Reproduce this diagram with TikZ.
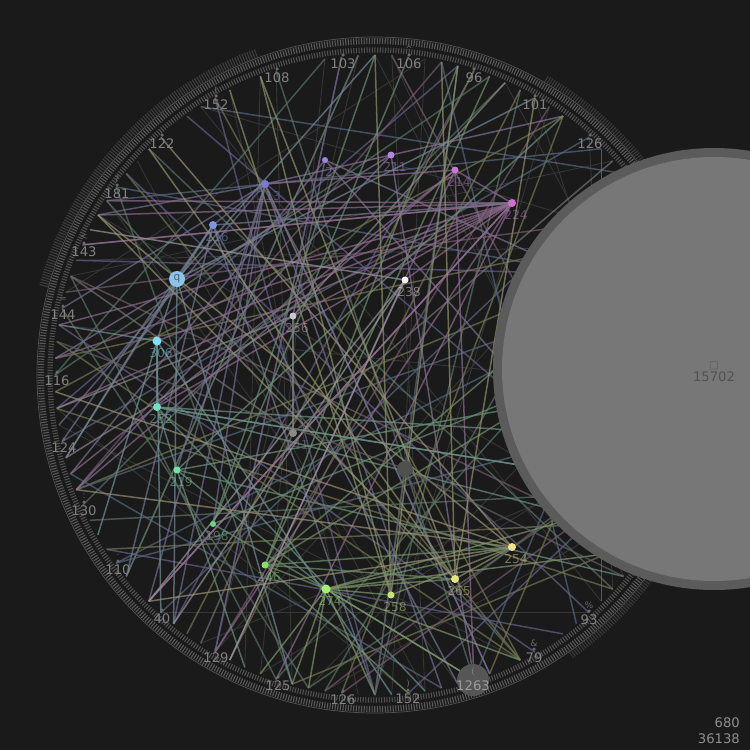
\documentclass[tikz,border=0pt]{standalone}
\usepackage{fontspec}
\setmainfont{DejaVu Sans}
\usetikzlibrary{calc}

\definecolor{bg}{HTML}{1A1A1A}
\definecolor{ringgray}{HTML}{6A6A6A}
\definecolor{labgray}{HTML}{818181}
\definecolor{bigfill}{HTML}{777777}
\definecolor{bigrim}{HTML}{5B5B5B}
% line colours
\definecolor{lc1}{HTML}{646089}
\definecolor{lc2}{HTML}{74764F}
\definecolor{lc3}{HTML}{5A7264}
\definecolor{lc4}{HTML}{73596C}
\definecolor{lc5}{HTML}{57677D}
% hub colours
\definecolor{hA}{HTML}{7B78D6}
\definecolor{hB}{HTML}{9C84E0}
\definecolor{hC}{HTML}{B884E4}
\definecolor{hD}{HTML}{C878DC}
\definecolor{hE}{HTML}{D070D0}
\definecolor{hF}{HTML}{7F95E0}
\definecolor{hG}{HTML}{8CC4EA}
\definecolor{hH}{HTML}{80DFF0}
\definecolor{hI}{HTML}{70E0C0}
\definecolor{hJ}{HTML}{70E2A2}
\definecolor{hK}{HTML}{6CD486}
\definecolor{hL}{HTML}{84E06E}
\definecolor{hM}{HTML}{A4F070}
\definecolor{hN}{HTML}{C8E474}
\definecolor{hO}{HTML}{E6E47C}
\definecolor{hP}{HTML}{F4E08C}
\definecolor{hQ}{HTML}{F2F2F2}
\definecolor{hR}{HTML}{C8C8C8}
\definecolor{hS}{HTML}{8A8A8A}
\definecolor{hT}{HTML}{505050}

\pgfdeclarelayer{back}
\pgfsetlayers{back,main}

\begin{document}
\begin{tikzpicture}[x=0.02cm, y=-0.02cm,
    hub/.style={circle, inner sep=0pt, minimum size=#1*0.02cm},
    hublab/.style={font=\fontsize{7}{8}\selectfont, inner sep=0pt, opacity=0.5},
    rdot/.style={circle, fill=ringgray, inner sep=0pt, minimum size=0.07cm},
    rlab/.style={font=\fontsize{7.5}{8}\selectfont, text=labgray, inner sep=0pt},
    rglyph/.style={font=\fontsize{5}{6}\selectfont, text=ringgray, inner sep=0pt},
    chord/.style={line width=0.85pt, opacity=0.7},
    spoke/.style={line width=0.85pt, opacity=0.7},
    glyphring/.style={draw=ringgray, dash pattern=on 0.6pt off 0.9pt}
  ]
\useasboundingbox (0,0) rectangle (750,750);
\clip (0,0) rectangle (750,750);
\pgfmathsetseed{4213}

\coordinate (c) at (375,375);
% ring points
\foreach \i in {0,...,119}
  \coordinate (r\i) at ($(c)+(\i*3:320)$);

% hub nodes
\foreach \n/\x/\y/\s/\lab in {A/265/184/8/213, B/325/160/6/2, C/391/155/7/211,
    D/455/170/7/214, E/512/203/8/224, F/213/225/8/216, G/177/279/16/, H/157/341/9/306,
    I/157/407/8/252, J/177/470/7/219, K/213/524/6/198, L/265/565/7/246, M/326/589/9/274,
    N/391/595/7/258, O/455/579/8/265, P/512/547/8/254, Q/405/280/7/238, R/293/316/7/256,
    S/293/433/8/241, T/405/469/16/287}{
  \node[hub=\s, fill=h\n] (\n) at (\x,\y) {};
  \node[hublab, text=h\n!80!gray] (l\n) at (\x+4,\y+12) {\lab};
}
\node[font=\fontsize{6}{6}\selectfont, text=hG!50!black] (gG) at (G) {q};

\begin{pgfonlayer}{back}
\fill[bg] (0,0) rectangle (750,750);
% dim web
\foreach \j in {1,...,30}{
  \pgfmathrandominteger{\a}{0}{119}
  \pgfmathrandominteger{\d}{25}{95}
  \pgfmathtruncatemacro{\b}{mod(\a+\d,120)}
  \draw[line width=0.5pt, color=ringgray!35!bg] (r\a) -- (r\b);
}
% chords
\foreach \j in {1,...,60}{
  \pgfmathrandominteger{\a}{0}{119}
  \pgfmathrandominteger{\d}{25}{95}
  \pgfmathtruncatemacro{\b}{mod(\a+\d,120)}
  \pgfmathrandominteger{\q}{1}{5}
  \draw[chord, color=lc\q] (r\a) -- (r\b);
}
% spokes from hubs
\foreach \n/\lo/\hi/\cnt in {A/20/70/8, B/0/119/3, C/0/119/4, D/20/60/4, E/35/75/12,
    F/20/60/5, G/0/119/5, H/0/119/4, I/0/30/5, J/0/119/4, K/90/119/3, L/0/119/5,
    M/0/40/9, N/80/119/4, O/60/100/5, P/40/80/5, Q/30/70/4, R/0/119/3, S/0/119/3, T/0/119/3}{
  \foreach \j in {1,...,\cnt}{
    \pgfmathrandominteger{\k}{\lo}{\hi}
    \draw[spoke, color=h\n!40!gray!85!bg] (\n.center) -- (r\k);
  }
}
% hub to hub
\foreach \u/\v in {M/P, M/O, L/O, L/P, M/N, N/P, K/M, J/M, L/M, E/H, E/I, E/Q,
    A/K, A/J, A/F, C/A, D/A, B/R, G/F, G/H, H/I, I/J, O/P, D/E, R/S, T/O, F/E, E/R}
  \draw[spoke, color=h\u!40!gray!85!bg] (\u.center) -- (\v.center);
\end{pgfonlayer}

% glyph rings
\draw[glyphring, line width=3.5pt, opacity=0.8] (c) circle (334);
\draw[glyphring, line width=3pt, opacity=0.7] (c) circle (325);
\draw[ringgray!70!bg, line width=0.4pt] (c) circle (338);
\draw[glyphring, line width=5pt, opacity=0.45] ($(c)+(195:343)$) arc[start angle=195, end angle=250, radius=343];
\draw[glyphring, line width=4pt, opacity=0.4] ($(c)+(300:342)$) arc[start angle=300, end angle=325, radius=342];
\draw[glyphring, line width=4pt, opacity=0.4] ($(c)+(35:342)$) arc[start angle=35, end angle=55, radius=342];

% labelled ring nodes
\foreach \k/\x/\y/\g/\lab in {1/277/78//108, 2/343/64//103, 3/409/64/\^{}/106, 4/474/78//96,
    5/535/105//101, 6/590/144//126, 7/216/105/!/152, 8/162/144//122, 9/117/194/?/181,
    10/84/252/</143, 11/63/315/=/144, 12/57/381//116, 13/64/448//124, 14/84/511/:/130,
    15/118/570/./110, 16/162/619//40, 17/216/658//129, 18/278/686//125, 19/343/700//126,
    20/408/699/)/152, 21/534/658/\&/79, 22/589/620/\%/93}{
  \node[rdot] (d\k) at (\x,\y-9) {};
  \node[rglyph] (g\k) at (\x,\y-15) {\g};
  \node[rlab] (t\k) at (\x,\y) {\lab};
}

% big dark node
\node[circle, fill=ringgray!75!bg, minimum size=0.64cm, inner sep=0pt] (n1263) at (473,680) {};
\node[rglyph, text=labgray] (g1263) at (473,672) {(};
\node[rlab, text=labgray!80!white] (t1263) at (473,686) {1263};

% big node
\fill[bigrim] (714,369) circle (221);
\fill[bigfill] (714,369) circle (212);
\node[rglyph, text=bigrim, font=\fontsize{6}{6}\selectfont] (gbig) at (714,366) {□};
\node[rlab, text=bigrim!90!black] (tbig) at (714,377) {15702};

% counts
\node[anchor=east, font=\fontsize{7.5}{8}\selectfont, text=labgray!90!white] (cnodes) at (746,723) {680};
\node[anchor=east, font=\fontsize{7.5}{8}\selectfont, text=labgray!90!white] (cedges) at (746,739) {36138};
\end{tikzpicture}
\end{document}
